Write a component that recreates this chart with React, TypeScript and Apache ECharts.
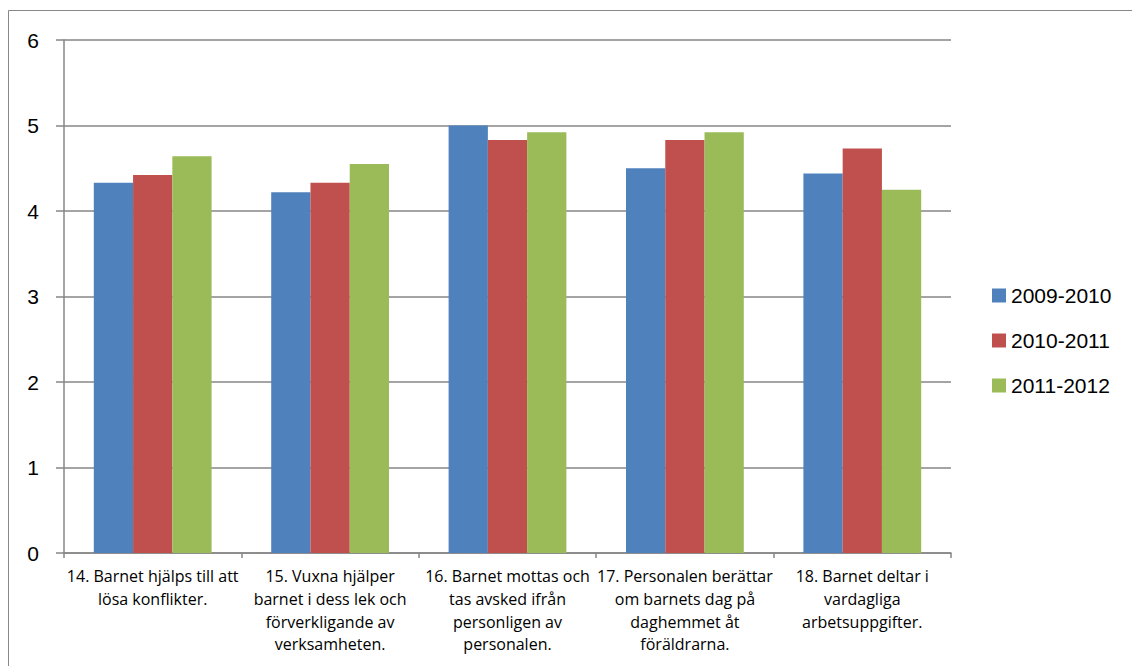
import React, { useEffect, useRef } from "react";
import * as echarts from "echarts";

const categories = [
  "14. Barnet hjälps till att\nlösa konflikter.",
  "15. Vuxna hjälper\nbarnet i dess lek och\nförverkligande av\nverksamheten.",
  "16. Barnet mottas och\ntas avsked ifrån\npersonligen av\npersonalen.",
  "17. Personalen berättar\nom barnets dag på\ndaghemmet åt\nföräldrarna.",
  "18. Barnet deltar i\nvardagliga\narbetsuppgifter.",
];
const seriesNames = ["2009-2010", "2010-2011", "2011-2012"];
const values2009 = [4.33, 4.22, 5.0, 4.5, 4.44];
const values2010 = [4.42, 4.33, 4.83, 4.83, 4.73];
const values2011 = [4.64, 4.55, 4.92, 4.92, 4.25];
const colors = ["#4F81BD", "#C0504D", "#9BBB59"];

export default function App() {
  const ref = useRef<HTMLDivElement>(null);
  useEffect(() => {
    const chart = echarts.init(ref.current!, null, { renderer: "svg" });
    const font = "Liberation Sans, Arial, sans-serif";
    const labelFont = "Open Sans, Liberation Sans, sans-serif";
    const data = [values2009, values2010, values2011];
    chart.setOption({
      animation: false,
      backgroundColor: "#ffffff",
      graphic: [
        {
          type: "rect",
          shape: { x: 8.5, y: 10.5, width: 1200, height: 700 },
          style: { fill: "none", stroke: "#888888", lineWidth: 1 },
          silent: true,
        },
      ],
      grid: { left: 64, right: 181, top: 40, bottom: 113 },
      legend: {
        orient: "vertical",
        left: 987,
        top: 280,
        itemWidth: 14,
        itemHeight: 14,
        itemGap: 24,
        icon: "rect",
        textStyle: { fontFamily: font, fontSize: 21, color: "#000" },
        data: seriesNames,
      },
      xAxis: {
        type: "category",
        data: categories,
        axisLine: { lineStyle: { color: "#868686", width: 1.5 } },
        axisTick: { show: true, length: 5, alignWithLabel: false, lineStyle: { color: "#868686", width: 1.5 } },
        axisLabel: {
          interval: 0,
          margin: 12,
          fontFamily: labelFont,
          fontSize: 16,
          lineHeight: 22.7,
          color: "#000",
          align: "center",
        },
      },
      yAxis: {
        type: "value",
        min: 0,
        max: 6,
        interval: 1,
        axisLine: { show: true, lineStyle: { color: "#868686", width: 1.5 } },
        axisTick: { show: true, length: 8, lineStyle: { color: "#868686", width: 1.5 } },
        splitLine: { lineStyle: { color: "#868686", width: 1.5 } },
        axisLabel: { margin: 25, fontFamily: font, fontSize: 21, color: "#000" },
      },
      series: seriesNames.map((name, i) => ({
        name,
        type: "bar",
        data: data[i],
        barGap: "0%",
        barCategoryGap: "33.6%",
        itemStyle: { color: colors[i] },
      })),
    });
    return () => chart.dispose();
  }, []);
  return (
    <div
      ref={ref}
      style={{ position: "fixed", left: 0, top: 0, width: 1132, height: 666 }}
    />
  );
}
